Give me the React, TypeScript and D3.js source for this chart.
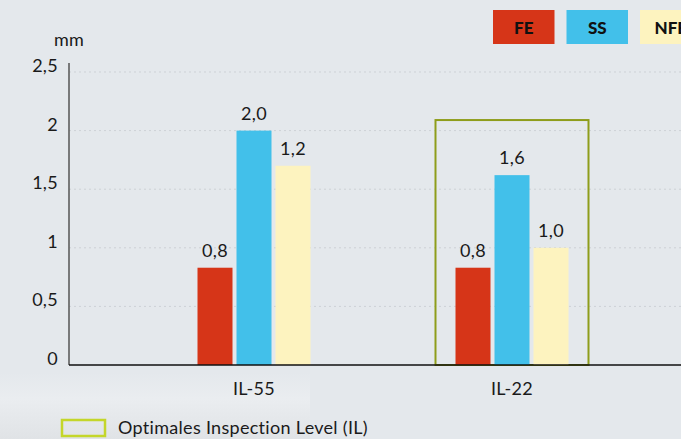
import React from "react";
import * as d3 from "d3";

const categories = ["IL-55", "IL-22"];
const seriesNames = ["FE", "SS", "NFE"];
const feValues = [0.83, 0.83];
const ssValues = [2.0, 1.62];
const nfeValues = [1.7, 1.0];
const feLabels = ["0,8", "0,8"];
const ssLabels = ["2,0", "1,6"];
const nfeLabels = ["1,2", "1,0"];
const yTicks = [0, 0.5, 1, 1.5, 2, 2.5];
const yTickLabels = ["0", "0,5", "1", "1,5", "2", "2,5"];
const highlightCategory = "IL-22";
const highlightTop = 2.09;
const unitLabel = "mm";
const legendNote = "Optimales Inspection Level (IL)";

const colors = ["#d63518", "#42c0ea", "#fdf3bf"];
const FONT = "Lato, 'Noto Sans', sans-serif";
const FS = 18;
const LS = 0.3;

export default function App() {
  const W = 681;
  const H = 439;
  const x0 = 69;
  const y = d3.scaleLinear().domain([0, 2.5]).range([365, 72]);
  const x = d3.scaleBand().domain(categories).range([125, 641]).padding(0);
  const inner = d3.scaleBand().domain(seriesNames).range([-56.5, 56.5]).paddingInner(4 / 39);
  const values = [feValues, ssValues, nfeValues];
  const labels = [feLabels, ssLabels, nfeLabels];
  const hx = (x(highlightCategory) as number) + x.bandwidth() / 2;

  return (
    <svg width={W} height={H} style={{ position: "absolute", left: 0, top: 0, display: "block" }}>
      <defs>
        <linearGradient id="bottomFade" x1="0" y1="0" x2="0" y2="1">
          <stop offset="0" stopColor="#eaedf0" stopOpacity="0" />
          <stop offset="0.4" stopColor="#eaedf0" stopOpacity="1" />
          <stop offset="1" stopColor="#e0e3e6" stopOpacity="1" />
        </linearGradient>
      </defs>
      <rect x={0} y={0} width={W} height={H} fill="#e4e8ec" />
      <rect x={0} y={372} width={310} height={67} fill="url(#bottomFade)" />

      {yTicks.slice(1).map((t) => (
        <line key={t} x1={x0} x2={W} y1={y(t)} y2={y(t)} stroke="#cdd1d6" strokeWidth={1} strokeDasharray="2,3" />
      ))}

      {yTicks.map((t, i) => (
        <text key={t} x={58} y={y(t)} textAnchor="end" fontFamily={FONT} fontSize={FS} letterSpacing={LS} fill="#1a1a1a">
          {yTickLabels[i]}
        </text>
      ))}
      <text x={54} y={46} fontFamily={FONT} fontSize={FS} letterSpacing={LS} fill="#1a1a1a">{unitLabel}</text>

      <rect x={hx - 76.5} y={y(highlightTop)} width={153} height={y(0) - y(highlightTop)} fill="none" stroke="#8e9d1b" strokeWidth={2} />

      {categories.map((c, ci) => (
        <g key={c}>
          {seriesNames.map((s, si) => {
            const cx = (x(c) as number) + x.bandwidth() / 2 + (inner(s) as number);
            const v = values[si][ci];
            return (
              <g key={s}>
                <rect x={cx} y={y(v)} width={inner.bandwidth()} height={y(0) - y(v)} fill={colors[si]} />
                <text x={cx + inner.bandwidth() / 2} y={y(v) - 11} textAnchor="middle" fontFamily={FONT} fontSize={FS} letterSpacing={LS} fill="#1a1a1a">
                  {labels[si][ci]}
                </text>
              </g>
            );
          })}
          <text x={(x(c) as number) + x.bandwidth() / 2} y={395} textAnchor="middle" fontFamily={FONT} fontSize={FS} letterSpacing={LS} fill="#1a1a1a">
            {c}
          </text>
        </g>
      ))}

      <line x1={x0} x2={x0} y1={63} y2={y(0)} stroke="#555" strokeWidth={1.5} />
      <line x1={x0} x2={W} y1={y(0)} y2={y(0)} stroke="#111" strokeWidth={1.5} />

      {seriesNames.map((s, i) => {
        const lx = 493 + i * 73.5;
        return (
          <g key={s}>
            <rect x={lx} y={10} width={61.5} height={34} fill={colors[i]} />
            <text x={lx + 30.75} y={34} textAnchor="middle" fontFamily={FONT} fontWeight={900} fontSize={17} fill="#111">
              {s}
            </text>
          </g>
        );
      })}

      <rect x={62} y={420} width={43} height={16} fill="none" stroke="#c4d62a" strokeWidth={2.5} />
      <text x={118} y={434} fontFamily={FONT} fontSize={FS} letterSpacing={LS} fill="#1a1a1a">{legendNote}</text>
    </svg>
  );
}
